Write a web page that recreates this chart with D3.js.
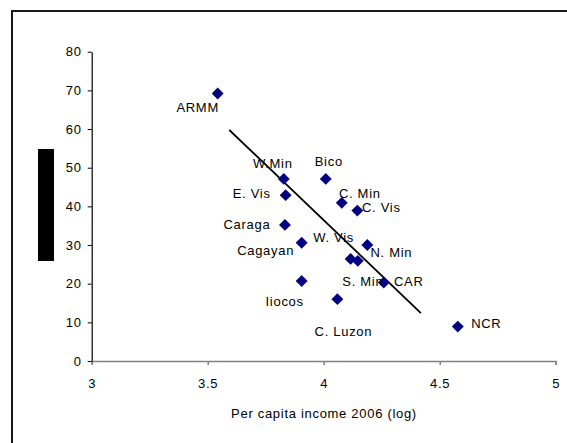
<!DOCTYPE html>
<html>
<head>
<meta charset="utf-8">
<script src="https://cdn.jsdelivr.net/npm/d3@7/dist/d3.min.js"></script>
<style>
  html, body { margin: 0; padding: 0; background: #fff; }
  svg { display: block; font-family: "Liberation Sans", Arial, sans-serif; }
  text { letter-spacing: 0.7px; }
</style>
</head>
<body>
<svg id="chart" width="567" height="443"></svg>
<script>
// Regions, log per-capita income 2006 and poverty incidence (%)
const regions = ["ARMM", "W.Min", "E. Vis", "Caraga", "Cagayan", "Iiocos", "C. Luzon",
                 "Bico", "C. Min", "C. Vis", "W. Vis", "S. Min", "N. Min", "CAR", "NCR"];
const income  = [3.543, 3.828, 3.836, 3.833, 3.905, 3.905, 4.059,
                 4.009, 4.078, 4.145, 4.116, 4.147, 4.188, 4.259, 4.578];
const poverty = [69.2, 47.1, 42.9, 35.2, 30.6, 20.7, 16.0,
                 47.1, 40.9, 38.9, 26.4, 25.9, 30.0, 20.3, 8.9];

// Fitted trend line end points
const trendX = [3.593, 4.419];
const trendY = [59.75, 12.4];

// Axis ticks
const xTicks = [3, 3.5, 4, 4.5, 5];
const yTicks = [0, 10, 20, 30, 40, 50, 60, 70, 80];

// Label placement relative to each marker (dx to text centre, dy to baseline)
const labelOffset = {
  "ARMM": [-20, 19], "W.Min": [-11, -11], "E. Vis": [-34, 3], "Caraga": [-38, 4],
  "Cagayan": [-36, 12], "Iiocos": [-17, 25], "C. Luzon": [6, 37], "Bico": [3, -12.5],
  "C. Min": [18, -4.7], "C. Vis": [24, 1.3], "W. Vis": [-17, -17], "S. Min": [5, 25],
  "N. Min": [24, 11.5], "CAR": [25, 3.3], "NCR": [28.5, 1.3]
};

const FONT = 13;
const svg = d3.select("#chart");

// Outer frame (top and left edges visible)
svg.append("path")
  .attr("d", "M12,443 L12,11 L567,11")
  .attr("fill", "none").attr("stroke", "#1a1a1a").attr("stroke-width", 2);

const x = d3.scaleLinear().domain([3, 5]).range([91.7, 555.7]);
const y = d3.scaleLinear().domain([0, 80]).range([361, 51.7]);

// Y axis title placeholder block
svg.append("rect")
  .attr("x", 38).attr("y", 149).attr("width", 16).attr("height", 112)
  .attr("fill", "#000");

// X axis
const gx = svg.append("g").attr("transform", `translate(0,${y(0)})`)
  .call(d3.axisBottom(x).tickValues(xTicks).tickSize(4).tickPadding(14)
        .tickFormat(d3.format("")));
gx.select(".domain").attr("stroke", "#808080").attr("stroke-width", 1.5);
gx.selectAll(".tick line").attr("stroke", "#808080").attr("stroke-width", 1.5);
gx.selectAll(".tick text").attr("font-size", FONT).attr("fill", "#000")
  .attr("font-family", "Liberation Sans, Arial, sans-serif");

// Y axis
const gy = svg.append("g").attr("transform", `translate(${x(3)},0)`)
  .call(d3.axisLeft(y).tickValues(yTicks).tickSize(4).tickSizeOuter(0).tickPadding(6));
gy.select(".domain").attr("stroke", "#000").attr("stroke-width", 1.2);
gy.selectAll(".tick line").attr("stroke", "#000");
gy.selectAll(".tick text").attr("font-size", FONT).attr("fill", "#000")
  .attr("font-family", "Liberation Sans, Arial, sans-serif");

// X axis title
svg.append("text")
  .attr("x", 324).attr("y", 418).attr("text-anchor", "middle")
  .attr("font-size", FONT).attr("fill", "#000")
  .text("Per capita income 2006 (log)");

// Trend line
svg.append("line")
  .attr("x1", x(trendX[0])).attr("y1", y(trendY[0]))
  .attr("x2", x(trendX[1])).attr("y2", y(trendY[1]))
  .attr("stroke", "#000").attr("stroke-width", 1.8);

// Diamond markers
const pts = regions.map((r, i) => ({ name: r, xv: income[i], yv: poverty[i] }));
const diamond = d3.symbol().type(d3.symbolDiamond2).size(90);
svg.append("g").selectAll("path").data(pts).join("path")
  .attr("d", diamond)
  .attr("transform", d => `translate(${x(d.xv)},${y(d.yv)})`)
  .attr("fill", "#000080");

// Point labels
svg.append("g").selectAll("text").data(pts).join("text")
  .attr("x", d => x(d.xv) + labelOffset[d.name][0])
  .attr("y", d => y(d.yv) + labelOffset[d.name][1])
  .attr("text-anchor", "middle")
  .attr("font-size", FONT).attr("fill", "#000")
  .text(d => d.name);
</script>
</body>
</html>
